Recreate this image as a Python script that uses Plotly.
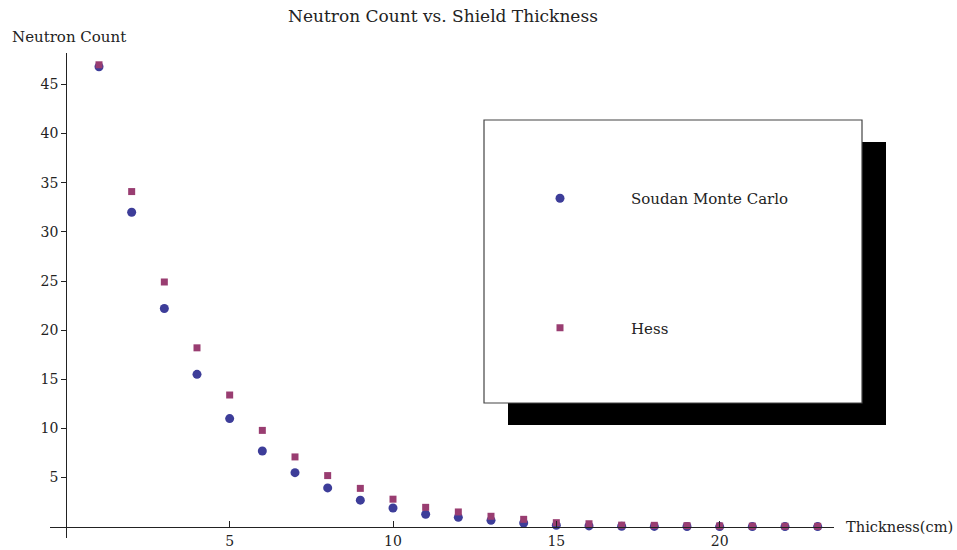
import plotly.graph_objects as go

# Shield thickness in cm
thickness = list(range(1, 24))

# Neutron counts per thickness
soudan_mc = [46.8, 32.0, 22.2, 15.5, 11.0, 7.7, 5.5, 3.95, 2.7, 1.9, 1.27, 0.95,
             0.65, 0.38, 0.15, 0.08, 0.05, 0.03, 0.02, 0.01, 0.01, 0.01, 0.01]
hess = [47.0, 34.1, 24.9, 18.2, 13.4, 9.8, 7.1, 5.2, 3.9, 2.8, 1.97, 1.5,
        1.06, 0.75, 0.41, 0.3, 0.16, 0.14, 0.11, 0.08, 0.06, 0.05, 0.04]

x_ticks = [5, 10, 15, 20]
y_ticks = [5, 10, 15, 20, 25, 30, 35, 40, 45]

X_RANGE = [-0.5, 23.5]
Y_RANGE = [-1.15, 48.2]

W, H = 957, 550
ML, MR, MT, MB = 50, 123, 53, 12
PW, PH = W - ML - MR, H - MT - MB

SERIF = "DejaVu Serif, Liberation Serif, serif"
INK = "#222"
BLUE = "#3d3d99"
PURPLE = "#993d71"


def px_x(p):
    return (p - ML) / PW


def px_y(p):
    return 1 - (p - MT) / PH


fig = go.Figure()
fig.add_trace(go.Scatter(
    x=thickness, y=soudan_mc, mode="markers", name="Soudan Monte Carlo",
    legendgroup="a",
    marker=dict(symbol="circle", size=9, color=BLUE, line=dict(width=0)),
))
fig.add_trace(go.Scatter(
    x=thickness, y=hess, mode="markers", name="Hess",
    legendgroup="b",
    marker=dict(symbol="square", size=7, color=PURPLE, line=dict(width=0)),
))

# axes crossing at the origin
x_pos = (0 - Y_RANGE[0]) / (Y_RANGE[1] - Y_RANGE[0])
y_pos = (0 - X_RANGE[0]) / (X_RANGE[1] - X_RANGE[0])

fig.update_xaxes(
    range=X_RANGE, anchor="free", position=x_pos, automargin=False,
    showgrid=False, zeroline=False, showline=True, linecolor=INK, linewidth=1.3,
    tickmode="array", tickvals=x_ticks, ticks="inside", ticklen=6,
    tickcolor=INK, tickwidth=1.3, ticklabelstandoff=1,
    tickfont=dict(family=SERIF, size=14, color=INK),
)
fig.update_yaxes(
    range=Y_RANGE, anchor="free", position=y_pos, automargin=False,
    showgrid=False, zeroline=False, showline=True, linecolor=INK, linewidth=1.3,
    tickmode="array", tickvals=y_ticks, ticks="outside", ticklen=5,
    tickcolor=INK, tickwidth=1.3,
    tickfont=dict(family=SERIF, size=14, color=INK),
)

# legend frame with drop shadow
shapes = [
    dict(type="rect", xref="paper", yref="paper",
         x0=px_x(508), x1=px_x(886), y0=px_y(425), y1=px_y(142),
         fillcolor="black", line=dict(width=0), layer="above"),
    dict(type="rect", xref="paper", yref="paper",
         x0=px_x(484), x1=px_x(862), y0=px_y(403), y1=px_y(120),
         fillcolor="white", line=dict(color="#444", width=1.2), layer="above"),
]

annotations = [
    dict(text="Neutron Count", xref="paper", yref="paper",
         x=px_x(10), y=px_y(37), xanchor="left", yanchor="middle",
         showarrow=False, font=dict(family=SERIF, size=15, color=INK)),
    dict(text="Thickness(cm)", xref="paper", yref="y",
         x=px_x(844), y=0, xanchor="left", yanchor="middle",
         showarrow=False, font=dict(family=SERIF, size=14.6, color=INK)),
]

fig.update_layout(
    width=W, height=H,
    margin=dict(l=ML, r=MR, t=MT, b=MB),
    paper_bgcolor="white", plot_bgcolor="white",
    title=dict(text="Neutron Count vs. Shield Thickness",
               xref="container", x=443 / W, xanchor="center",
               yref="container", y=1 - 16 / H, yanchor="middle",
               font=dict(family=SERIF, size=17, color=INK)),
    showlegend=True,
    legend=dict(x=px_x(489), y=px_y(182), xanchor="left", yanchor="top",
                bgcolor="rgba(0,0,0,0)", borderwidth=0,
                traceorder="grouped", tracegroupgap=107, itemwidth=132,
                font=dict(family=SERIF, size=15, color=INK)),
    shapes=shapes,
    annotations=annotations,
)

fig.write_html("out.html")
